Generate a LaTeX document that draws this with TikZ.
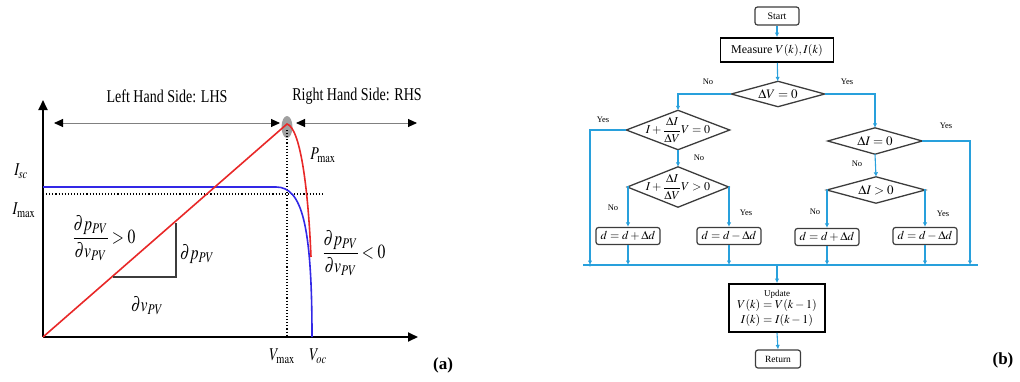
\documentclass[tikz,border=0pt]{standalone}
\usepackage{amsmath}
\usepackage{mathptmx}
\usepackage{fontspec}
\setmainfont{Liberation Serif}
\usetikzlibrary{arrows.meta}
\definecolor{fcblue}{RGB}{40,160,220}
\definecolor{pvred}{RGB}{232,40,40}
\definecolor{pvblue}{RGB}{50,40,230}
\definecolor{edge}{RGB}{60,60,60}
\newcommand\cnd[1]{\scalebox{0.78}[1]{#1}}
\begin{document}
\begin{tikzpicture}[x=1pt,y=-1pt,
  axis/.style={line width=1.8pt,-{Triangle[length=10pt,width=9pt]}},
  span/.style={gray,line width=0.9pt,{Triangle[length=9pt,width=8pt,black]}-{Triangle[length=9pt,width=8pt,black]}},
  big/.style={font=\fontsize{18}{20}\selectfont,inner sep=0pt},
  mid/.style={font=\fontsize{20}{22}\selectfont,inner sep=0pt},
  tag/.style={font=\fontsize{17}{19}\selectfont\bfseries,inner sep=0pt},
  flow/.style={fcblue,line width=1.1pt,-{Latex[length=4.5pt,width=4.5pt]}},
  bus/.style={fcblue,line width=1.1pt},
  rbox/.style={draw=edge,rounded corners=2.5pt,line width=1.2pt,font=\fontsize{12}{13}\selectfont,inner sep=1pt,minimum height=17pt},
  sbox/.style={draw=black,line width=1.8pt,font=\fontsize{12}{13}\selectfont,inner sep=1pt},
  dia/.style={inner sep=0pt,font=\fontsize{12}{13}\selectfont},
  yn/.style={font=\fontsize{8.5}{9}\selectfont,inner sep=0pt}]
\useasboundingbox (0,0) rectangle (1020,381);
% ---------------- panel (a)
\coordinate (O) at (43,337);
\coordinate (Ytop) at (43,100);
\coordinate (Xend) at (418,337);
\coordinate (Pk) at (287,124);
\node[big] (lhs) at (167,96) {\cnd{Left Hand Side: LHS}};
\node[big] (rhs) at (357,96) {\cnd{Right Hand Side: RHS}};
\coordinate (l1) at (54,123); \coordinate (l2) at (280,123);
\coordinate (r1) at (296,123); \coordinate (r2) at (417,123);
\draw[span] (l1) -- (l2);
\draw[span] (r1) -- (r2);
\draw[axis] (O) -- (Ytop);
\draw[axis] (O) -- (Xend);
\fill[gray,opacity=0.75] (287,127) ellipse [x radius=5.5pt, y radius=11pt];
\draw[black,line width=1.1pt,dotted] (43,194) -- (325,194);
\draw[black,line width=1.1pt,dotted] (287,130) -- (287,337);
\draw[pvblue,line width=1.6pt] (43,187) -- (276,187) .. controls (302,187) and (312,225) .. (312,337);
\draw[pvred,line width=1.6pt] (O) -- (Pk) .. controls (300,128) and (308,185) .. (311,257);
\draw[edge,line width=1.4pt] (113,277) -- (176,277) -- (176,223);
\node[big] (isc) at (21,171) {\cnd{$I_{sc}$}};
\node[big] (imax) at (24,210) {\cnd{$I_{\max}$}};
\node[big] (pmax) at (323,155) {\cnd{$P_{\max}$}};
\node[mid] (f1) at (104,238) {\cnd{$\dfrac{\partial p_{PV}}{\partial v_{PV}}>0$}};
\node[mid] (f2) at (354,253) {\cnd{$\dfrac{\partial p_{PV}}{\partial v_{PV}}<0$}};
\node[mid] (dp) at (197,254) {\cnd{$\partial p_{PV}$}};
\node[mid] (dv) at (147,306) {\cnd{$\partial v_{PV}$}};
\node[big] (vmax) at (282,356) {\cnd{$V_{\max}$}};
\node[big] (voc) at (318,356) {\cnd{$V_{oc}$}};
\node[tag] (ta) at (443,365) {(a)};
% ---------------- panel (b)
\node[rbox,minimum width=44pt,minimum height=18pt,font=\fontsize{10}{11}\selectfont] (start) at (777,16) {Start};
\node[sbox,minimum width=113pt,minimum height=24pt] (meas) at (777,50) {Measure $V(k),I(k)$};
\node[dia,minimum width=93pt,minimum height=25pt,font=\fontsize{13}{14}\selectfont] (d1) at (778,94) {$\Delta V=0$};
\node[dia,minimum width=103pt,minimum height=39pt] (d2) at (678,130) {$I+\dfrac{\Delta I}{\Delta V}V=0$};
\node[dia,minimum width=101pt,minimum height=40pt] (d3) at (678,187) {$I+\dfrac{\Delta I}{\Delta V}V>0$};
\node[dia,minimum width=94pt,minimum height=26pt,font=\fontsize{13}{14}\selectfont] (d4) at (875,141) {$\Delta I=0$};
\node[dia,minimum width=98pt,minimum height=26pt,font=\fontsize{13}{14}\selectfont] (d5) at (876,190) {$\Delta I>0$};
\foreach \n in {d1,d2,d3,d4,d5}
  \draw[edge,line width=1.3pt] (\n.north) -- (\n.east) -- (\n.south) -- (\n.west) -- cycle;
\node[rbox,minimum width=64pt] (b1) at (628,236) {$d=d+\Delta d$};
\node[rbox,minimum width=64pt] (b2) at (729,236) {$d=d-\Delta d$};
\node[rbox,minimum width=64pt] (b3) at (827,237) {$d=d+\Delta d$};
\node[rbox,minimum width=64pt] (b4) at (925,236) {$d=d-\Delta d$};
\node[sbox,minimum width=96pt,minimum height=48pt,align=center] (upd) at (777,308)
  {{\fontsize{9}{9}\selectfont Update}\\[-1pt] $V(k)=V(k-1)$\\[2pt] $I(k)=I(k-1)$};
\node[rbox,minimum width=45pt,minimum height=18pt,font=\fontsize{9.5}{10}\selectfont] (ret) at (778,359) {Return};
\coordinate (busL) at (583,265);
\coordinate (busR) at (978,265);
\coordinate (busM) at (777,265);
\coordinate (yL) at (590,265);
\coordinate (yR) at (970,265);
\draw[flow] (start) -- (meas);
\draw[flow] (meas) -- (d1);
\draw[flow] (d1.west) -| (d2.north);
\draw[flow] (d1.east) -| (d4.north);
\draw[flow] (d2.west) -| (yL);
\draw[flow] (d2.south) -- (d3.north);
\draw[flow] (d3.west) -| (b1.north);
\draw[flow] (d3.east) -| (b2.north);
\draw[flow] (d4.east) -| (yR);
\draw[flow] (d4.south) -- (d5.north);
\draw[flow] (d5.west) -| (b3.north);
\draw[flow] (d5.east) -| (b4.north);
\foreach \b in {b1,b2,b3,b4}
  \draw[flow] (\b.south) -- (\b.south |- busL);
\draw[bus] (busL) -- (busR);
\fill[fcblue] (yL) circle (1.6pt);
\draw[flow] (busM) -- (upd.north);
\draw[flow] (upd.south) -- (ret.north);
\node[yn] (n1) at (708,82) {No};
\node[yn] (y1) at (847,82) {Yes};
\node[yn] (y2) at (603,120) {Yes};
\node[yn] (n2) at (699,158) {No};
\node[yn] (y3) at (946,126) {Yes};
\node[yn] (n3) at (857,164) {No};
\node[yn] (n4) at (613,208) {No};
\node[yn] (y4) at (746,213) {Yes};
\node[yn] (n5) at (815,212) {No};
\node[yn] (y5) at (943,214) {Yes};
\node[tag] (tb) at (1003,360) {(b)};
\end{tikzpicture}
\end{document}
